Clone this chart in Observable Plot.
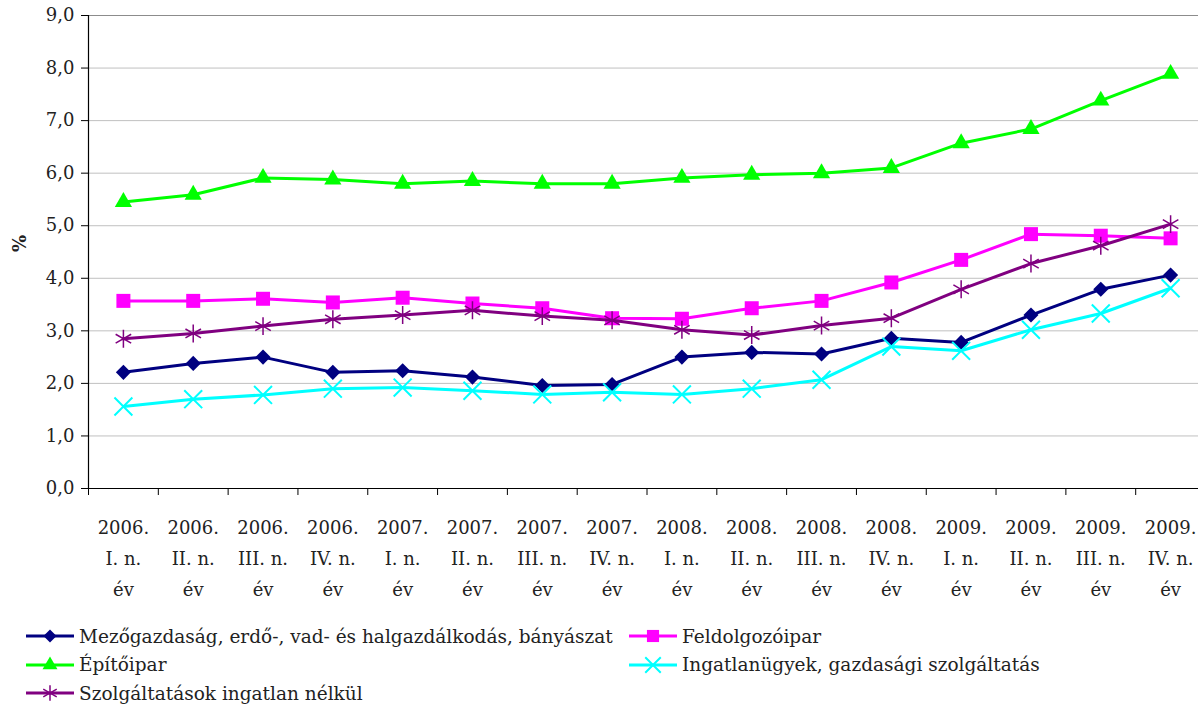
<!DOCTYPE html>
<html>
<head>
<meta charset="utf-8">
<script src="https://cdn.jsdelivr.net/npm/d3@7"></script>
<script src="https://cdn.jsdelivr.net/npm/@observablehq/plot@0.6"></script>
<style>
  body { margin: 0; background: #fff; font-family: "DejaVu Serif", "Liberation Serif", serif; color: #222; }
  #chart svg { display: block; }
  #legend { position: relative; height: 86px; margin-top: 10px; font-size: 18.5px; }
  .item { position: absolute; display: flex; align-items: center; height: 28px; white-space: nowrap; }
  .item svg { display: block; margin-right: 4px; }
</style>
</head>
<body>
<div id="chart"></div>
<div id="legend"></div>
<script>
// ---- data ----
const xLabels = [
  "2006.\nI. n.\név", "2006.\nII. n.\név", "2006.\nIII. n.\név", "2006.\nIV. n.\név",
  "2007.\nI. n.\név", "2007.\nII. n.\név", "2007.\nIII. n.\név", "2007.\nIV. n.\név",
  "2008.\nI. n.\név", "2008.\nII. n.\név", "2008.\nIII. n.\név", "2008.\nIV. n.\név",
  "2009.\nI. n.\név", "2009.\nII. n.\név", "2009.\nIII. n.\név", "2009.\nIV. n.\név"
];
const seriesNames = [
  "Mezőgazdaság, erdő-, vad- és halgazdálkodás, bányászat",
  "Feldolgozóipar",
  "Építőipar",
  "Ingatlanügyek, gazdasági szolgáltatás",
  "Szolgáltatások ingatlan nélkül"
];
const mezogazdasag = [2.21, 2.38, 2.50, 2.21, 2.24, 2.12, 1.96, 1.98, 2.50, 2.59, 2.56, 2.86, 2.78, 3.30, 3.79, 4.06];
const feldolgozoipar = [3.57, 3.57, 3.61, 3.54, 3.63, 3.52, 3.43, 3.24, 3.23, 3.43, 3.57, 3.92, 4.35, 4.84, 4.81, 4.76];
const epitoipar = [5.45, 5.59, 5.91, 5.88, 5.80, 5.85, 5.80, 5.80, 5.91, 5.97, 6.00, 6.10, 6.57, 6.84, 7.38, 7.89];
const ingatlan = [1.56, 1.70, 1.78, 1.90, 1.92, 1.86, 1.79, 1.83, 1.79, 1.90, 2.07, 2.70, 2.62, 3.02, 3.33, 3.81];
const szolgaltatas = [2.85, 2.95, 3.09, 3.22, 3.30, 3.39, 3.28, 3.20, 3.02, 2.92, 3.10, 3.24, 3.79, 4.28, 4.62, 5.03];
const yTicks = [0, 1, 2, 3, 4, 5, 6, 7, 8, 9];

const FONT = '"DejaVu Serif", "Liberation Serif", serif';

const seriesValues = [mezogazdasag, feldolgozoipar, epitoipar, ingatlan, szolgaltatas];
const styles = [
  {color: "#000080", symbol: "diamond2", r: 6.8, filled: true, d3sym: d3.symbolDiamond2},
  {color: "#FF00FF", symbol: "square", r: 7.9, filled: true, d3sym: d3.symbolSquare},
  {color: "#00FF00", symbol: "triangle", r: 6.4, filled: true, d3sym: d3.symbolTriangle},
  {color: "#00FFFF", symbol: "times", r: 8.2, filled: false, sw: 2, d3sym: d3.symbolTimes},
  {color: "#800080", symbol: "asterisk", r: 8.5, filled: false, sw: 1.5, d3sym: d3.symbolAsterisk}
];

const idx = d3.range(xLabels.length);
const boundaries = d3.range(-0.5, xLabels.length + 0.5, 1);

const marks = [
  Plot.ruleY(yTicks.filter(d => d > 0 && d < 9), {stroke: "#c0c0c0", strokeWidth: 1}),
  Plot.ruleY([9], {stroke: "#8c8c8c", strokeWidth: 1}),
  Plot.axisY({ticks: yTicks, tickSize: 7, tickPadding: 7, tickFormat: d => d.toFixed(1).replace(".", ","),
              fontSize: 18, label: null, stroke: "#000", fill: "#222"}),
  Plot.axisX({ticks: boundaries, tickSize: 7, tickFormat: () => "", label: null, stroke: "#000"}),
  Plot.axisX({ticks: idx, tickSize: 0, tickPadding: 24, tickFormat: i => xLabels[i], fontSize: 18,
              lineHeight: 1.72, label: null, fill: "#222"}),
  Plot.ruleX([-0.5], {y1: 0, y2: 9, stroke: "#000", strokeWidth: 1.2}),
  Plot.ruleY([0], {stroke: "#000", strokeWidth: 1.2}),
  Plot.text(["%"], {frameAnchor: "left", dx: -68, rotate: -90, text: d => d, fontWeight: "bold", fontSize: 18, fill: "#222"})
];

seriesValues.forEach((vals, s) => {
  const st = styles[s];
  const data = vals.map((v, i) => ({i, v}));
  marks.push(Plot.line(data, {x: "i", y: "v", stroke: st.color, strokeWidth: 3}));
  marks.push(Plot.dot(data, {
    x: "i", y: "v", symbol: st.symbol, r: st.r,
    fill: st.filled ? st.color : "none",
    stroke: st.filled ? "none" : st.color,
    strokeWidth: st.sw || 1
  }));
});

const chart = Plot.plot({
  width: 1198,
  height: 612,
  marginLeft: 88,
  marginTop: 15,
  marginBottom: 124,
  marginRight: 0,
  style: {fontFamily: FONT, fontSize: "18px", background: "#fff", overflow: "visible"},
  x: {type: "linear", domain: [-0.5, 15.5], range: [88, 1205]},
  y: {domain: [0, 9]},
  marks
});
document.getElementById("chart").appendChild(chart);

// ---- legend ----
const legend = document.getElementById("legend");
const positions = [
  {s: 0, left: 25, top: 0}, {s: 1, left: 628, top: 0},
  {s: 2, left: 25, top: 28.5}, {s: 3, left: 628, top: 28.5},
  {s: 4, left: 25, top: 57}
];
positions.forEach(p => {
  const st = styles[p.s];
  const div = document.createElement("div");
  div.className = "item";
  div.style.left = p.left + "px";
  div.style.top = p.top + "px";
  const size = Math.PI * st.r * st.r * 0.75;
  const path = d3.symbol(st.d3sym, size)();
  const svg = `<svg width="50" height="24" viewBox="0 0 50 24">
    <line x1="1" x2="49" y1="12" y2="12" stroke="${st.color}" stroke-width="3"/>
    <path d="${path}" transform="translate(25,12)" fill="${st.filled ? st.color : "none"}" stroke="${st.filled ? "none" : st.color}" stroke-width="${st.sw || 1}"/>
  </svg>`;
  div.innerHTML = svg + `<span>${seriesNames[p.s]}</span>`;
  legend.appendChild(div);
});
</script>
</body>
</html>
